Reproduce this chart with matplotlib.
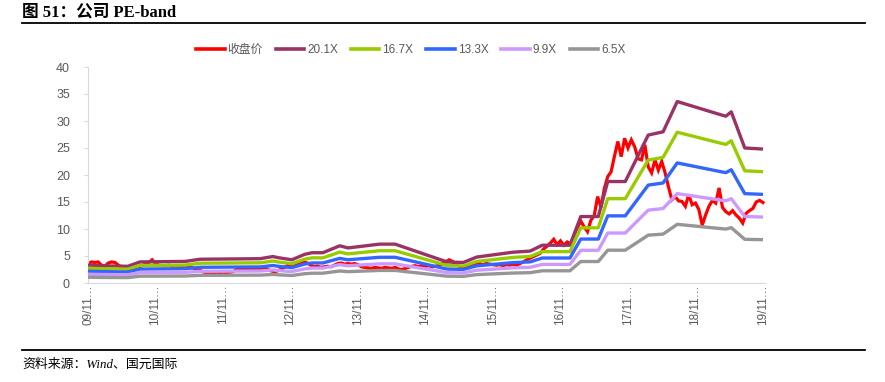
import numpy as np
import matplotlib
matplotlib.use("Agg")
import matplotlib.pyplot as plt
from matplotlib.lines import Line2D

plt.rcParams['font.family'] = ['Liberation Sans', 'Noto Sans CJK SC', 'DejaVu Sans']

# ---------------- data ----------------
title = "图 51：公司 PE-band"
source = "资料来源：Wind、国元国际"
tick_labels = ["09/11…", "10/11…", "11/11…", "12/11…", "13/11…", "14/11…",
               "15/11…", "16/11…", "17/11…", "18/11…", "19/11…"]
tick_years = [2009.85, 2010.85, 2011.85, 2012.85, 2013.85, 2014.85,
              2015.85, 2016.85, 2017.85, 2018.85, 2019.85]

# closing price sampled every 0.05 year starting 2009.85
close_start = 2009.85
close_step = 0.05
close_values = [
    3.5, 3.9, 3.8, 3.9, 3.3, 3.1, 3.7, 3.9, 3.8, 3.3,
    2.9, 2.7, 2.6, 2.7, 2.8, 3.0, 3.2, 3.5, 3.8, 4.3,
    3.6, 3.3, 3.2, 3.2, 3.3, 3.1, 3.2, 3.0, 3.1, 2.9,
    3.0, 2.8, 2.6, 2.5, 2.1, 1.9, 2.0, 1.9, 2.0, 1.9,
    2.0, 1.9, 2.0, 2.1, 2.5, 2.6, 2.7, 2.6, 2.7, 2.6,
    2.5, 2.6, 2.7, 2.6, 2.3, 2.1, 2.2, 2.5, 2.8, 3.2,
    3.3, 3.1, 3.4, 3.8, 3.9, 3.7, 3.3, 3.0, 3.1, 2.9,
    3.0, 3.1, 3.0, 3.3, 3.6, 3.7, 3.5, 3.6, 3.5, 3.6,
    3.4, 3.0, 2.9, 2.8, 2.7, 2.9, 2.8, 2.7, 2.9, 2.8,
    2.7, 2.9, 2.6, 2.5, 2.7, 2.9, 3.1, 3.2, 3.0, 3.3,
    3.1, 3.2, 3.0, 3.1, 3.3, 3.6, 3.9, 4.3, 4.0, 3.4,
    3.1, 3.0, 3.1, 3.0, 3.3, 3.5, 3.6, 3.4, 3.6, 3.5,
    3.4, 3.3, 3.4, 3.2, 3.4, 3.3, 3.5, 3.3, 3.6, 3.9,
    4.3, 4.6, 4.9, 5.2, 5.5, 6.3, 6.8, 7.4, 8.1, 7.1,
    7.8, 7.0, 7.6, 7.2, 8.8, 10.2, 11.5, 10.4, 9.5, 11.6,
    12.5, 16.0, 14.0, 17.5, 19.7, 20.6, 23.5, 26.2, 23.4, 26.8,
    25.0, 26.5, 25.2, 23.0, 22.8, 25.6, 21.5, 20.4, 22.8, 20.9,
    22.5, 20.4, 17.8, 15.4, 16.0, 15.2, 15.1, 14.2, 16.4, 14.5,
    14.8, 13.6, 10.7, 12.6, 14.2, 15.3, 14.8, 17.6, 14.0, 13.2,
    12.8, 13.4, 12.6, 12.0, 11.1, 12.9, 13.4, 13.8, 15.0, 15.3,
    14.9,
]

# EPS used for the bands (time in decimal years)
eps_years = [2009.85, 2010.03, 2010.44, 2010.62, 2011.29, 2011.51, 2012.40, 2012.59,
             2012.66, 2012.87, 2013.06, 2013.17, 2013.33, 2013.58, 2013.70, 2014.17,
             2014.40, 2015.17, 2015.41, 2015.61, 2016.15, 2016.40, 2016.58, 2016.99,
             2017.15, 2017.41, 2017.55, 2017.81, 2018.15, 2018.37, 2018.58, 2019.24,
             2019.30, 2019.38, 2019.58, 2019.85]
eps_values = [0.164, 0.159, 0.154, 0.194, 0.199, 0.219, 0.224, 0.244,
              0.234, 0.214, 0.264, 0.279, 0.279, 0.343, 0.323, 0.358,
              0.358, 0.194, 0.189, 0.239, 0.284, 0.294, 0.348, 0.348,
              0.612, 0.612, 0.935, 0.935, 1.363, 1.393, 1.672, 1.547,
              1.537, 1.577, 1.244, 1.234]

multiples = [20.1, 16.7, 13.3, 9.9, 6.5]
band_labels = ["20.1X", "16.7X", "13.3X", "9.9X", "6.5X"]
band_colors = ["#993366", "#99CC00", "#3366FF", "#CC99FF", "#969696"]
close_label = "收盘价"
close_color = "#FF0000"

# ---------------- figure ----------------
W, H = 885, 382
fig = plt.figure(figsize=(W / 100, H / 100), dpi=100)

def fx(px):
    return px / W

def fy(py):
    return 1 - py / H

ax = fig.add_axes([fx(88), fy(283), fx(765) - fx(88), fy(67) - fy(283)])

close_x = close_start + close_step * np.arange(len(close_values))
ax.plot(close_x, close_values, color=close_color, lw=2.3, zorder=2,
        solid_joinstyle='miter')
eps = np.array(eps_values)
for m, c in zip(multiples, band_colors):
    ax.plot(eps_years, m * eps, color=c, lw=2.4, zorder=3,
            solid_joinstyle='round', solid_capstyle='butt')

ax.set_xlim(2009.85, 2019.88)
ax.set_ylim(0, 40)
ax.set_yticks(range(0, 41, 5))
ax.set_xticks(tick_years)
ax.set_xticklabels(tick_labels, rotation=90, va='top', ha='center')

for s in ['top', 'right']:
    ax.spines[s].set_visible(False)
for s in ['left', 'bottom']:
    ax.spines[s].set_color('#D9D9D9')
    ax.spines[s].set_linewidth(0.8)
ax.tick_params(axis='y', length=3, color='#D9D9D9', labelsize=9,
               labelcolor='#595959', pad=10)
ax.tick_params(axis='x', length=0, labelsize=8.5, labelcolor='#595959', pad=1)

# legend
handles = [Line2D([0], [0], color=close_color, lw=2.6)]
handles += [Line2D([0], [0], color=c, lw=2.6) for c in band_colors]
labels = [close_label] + band_labels
fig.legend(handles, labels, loc='center', bbox_to_anchor=(fx(411), fy(50)),
           ncol=6, frameon=False, fontsize=8.5, handlelength=2.4,
           handletextpad=0.25, columnspacing=1.1, labelcolor='#595959')

# title, rules, source
fig.text(fx(22), fy(12), title, fontsize=12, fontweight='bold', va='center',
         ha='left', family=['Liberation Serif', 'Noto Sans CJK SC'])
fig.add_artist(Line2D([fx(22), fx(865)], [fy(22.5), fy(22.5)], color='black', lw=1.3))
fig.add_artist(Line2D([fx(22), fx(865)], [fy(350), fy(350)], color='black', lw=1.3))
fig.text(fx(22), fy(365), source, fontsize=9.3, va='center', ha='left',
         style='italic', family=['Liberation Serif', 'Noto Sans CJK SC'])

fig.savefig("out.png", dpi=100)
